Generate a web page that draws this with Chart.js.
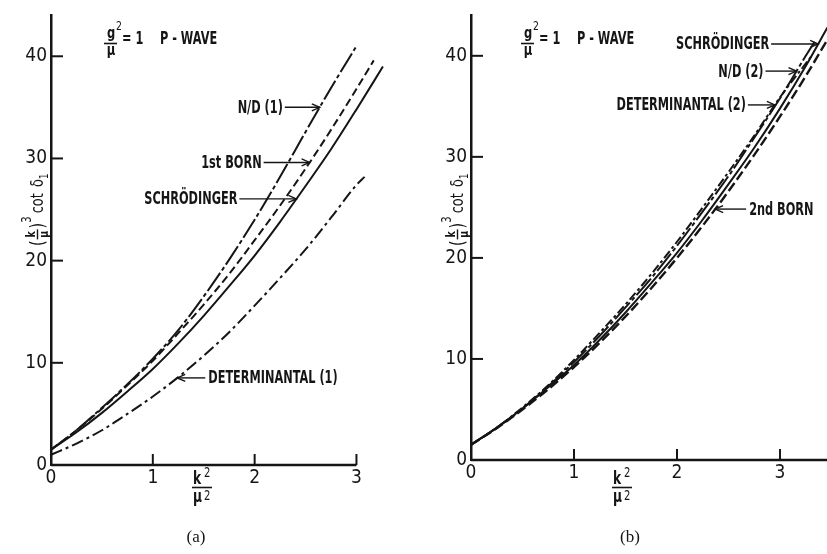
<!DOCTYPE html>
<html>
<head>
<meta charset="utf-8">
<script src="https://cdn.jsdelivr.net/npm/chart.js@4.4.0/dist/chart.umd.min.js"></script>
<style>
  html, body { margin: 0; padding: 0; background: #fff; }
  #wrap { position: relative; width: 827px; height: 554px; overflow: hidden; background: #fff; }
  .panel { position: absolute; top: 0; height: 554px; }
  #pa { left: 0; width: 415px; }
  #pb { left: 415px; width: 412px; }
</style>
</head>
<body>
<div id="wrap">
  <div class="panel" id="pa"><canvas id="ca" width="415" height="554"></canvas></div>
  <div class="panel" id="pb"><canvas id="cb" width="412" height="554"></canvas></div>
</div>
<script>
// ---- tick labels ----
const xTicks = [0, 1, 2, 3];
const yTicks = [0, 10, 20, 30, 40];

// ---- panel (a): first-order approximations, (k/mu)^3 cot delta_1 vs k^2/mu^2 ----
const schrA_k = [0, 0.25, 0.5, 0.75, 1, 1.25, 1.5, 1.75, 2, 2.25, 2.5, 2.75, 3, 3.26];
const schrA_v = [1.5, 3.2, 5.1, 7.2, 9.4, 11.9, 14.6, 17.5, 20.5, 23.8, 27.3, 30.9, 34.8, 39.0];

const born1_k = [0, 0.25, 0.5, 0.75, 1, 1.25, 1.5, 1.75, 2, 2.25, 2.5, 2.75, 3, 3.17];
const born1_v = [1.5, 3.4, 5.5, 7.8, 10.2, 12.9, 15.7, 18.7, 22.0, 25.4, 29.0, 32.8, 36.8, 39.6];

const nd1_k = [0, 0.25, 0.5, 0.75, 1, 1.25, 1.5, 1.75, 2, 2.25, 2.5, 2.75, 3];
const nd1_v = [1.5, 3.4, 5.6, 7.9, 10.4, 13.2, 16.5, 20.1, 24.0, 28.2, 32.6, 36.9, 41.0];

const det1_k = [0, 0.25, 0.5, 0.75, 1, 1.25, 1.5, 1.75, 2, 2.25, 2.5, 2.75, 3, 3.08];
const det1_v = [1.0, 2.1, 3.4, 5.0, 6.7, 8.6, 10.7, 13.0, 15.6, 18.3, 21.1, 24.2, 27.4, 28.2];

// ---- panel (b): second-order approximations ----
const schrB_k = [0, 0.25, 0.5, 0.75, 1, 1.25, 1.5, 1.75, 2, 2.25, 2.5, 2.75, 3, 3.25, 3.46];
const schrB_v = [1.5, 3.2, 5.1, 7.2, 9.4, 11.9, 14.6, 17.5, 20.5, 23.8, 27.3, 30.9, 34.8, 39.0, 42.8];

const nd2_k = [0, 0.25, 0.5, 0.75, 1, 1.25, 1.5, 1.75, 2, 2.25, 2.5, 2.75, 3, 3.25, 3.35];
const nd2_v = [1.5, 3.2, 5.1, 7.3, 9.7, 12.3, 15.1, 18.0, 21.2, 24.6, 28.1, 31.9, 35.8, 40.0, 41.6];

const det2_k = [0, 0.25, 0.5, 0.75, 1, 1.25, 1.5, 1.75, 2, 2.25, 2.5, 2.75, 3, 3.3];
const det2_v = [1.5, 3.2, 5.2, 7.4, 9.9, 12.6, 15.4, 18.4, 21.6, 25.0, 28.5, 32.1, 35.9, 39.9];

const born2_k = [0, 0.25, 0.5, 0.75, 1, 1.25, 1.5, 1.75, 2, 2.25, 2.5, 2.75, 3, 3.25, 3.46];
const born2_v = [1.5, 3.15, 5.0, 7.0, 9.2, 11.6, 14.2, 17.0, 20.0, 23.2, 26.6, 30.2, 34.0, 38.0, 41.6];

// ---- styling ----
const INK = '#151515';
const FONT = "'Liberation Sans Narrow','DejaVu Sans Condensed','Arial Narrow',sans-serif";
const SERIF = "'Liberation Serif','DejaVu Serif',serif";
const SQUEEZE = 0.8;        // lettering is drawn horizontally condensed
const LABEL_SQUEEZE = 0.74; // curve labels use a heavier, narrower pen

const DASH_ND = [22, 3, 4, 3];
const DASH_BORN = [8, 4];
const DASH_DET = [12, 4, 3, 4];

function lerpAt(ks, vs, k) {
  for (let i = 1; i < ks.length; i++) {
    if (k <= ks[i]) {
      const t = (k - ks[i - 1]) / (ks[i] - ks[i - 1]);
      return vs[i - 1] + t * (vs[i] - vs[i - 1]);
    }
  }
  return vs[vs.length - 1];
}

// condensed text: align 'left' | 'right' | 'center' at (x, y)
function narrowText(ctx, text, x, y, align, squeeze) {
  const sq = squeeze || SQUEEZE;
  const w = ctx.measureText(text).width * sq;
  let left = x;
  if (align === 'right') left = x - w;
  else if (align === 'center') left = x - w / 2;
  ctx.save();
  ctx.translate(left, y);
  ctx.scale(sq, 1);
  ctx.textAlign = 'left';
  ctx.fillText(text, 0, 0);
  ctx.restore();
  return w;
}

function drawArrow(ctx, x0, y, x1) {
  ctx.beginPath();
  ctx.moveTo(x0, y);
  ctx.lineTo(x1, y);
  ctx.stroke();
  const d = Math.sign(x1 - x0);
  ctx.beginPath();
  ctx.moveTo(x1 - d * 8, y - 3.5);
  ctx.lineTo(x1, y);
  ctx.lineTo(x1 - d * 8, y + 3.5);
  ctx.stroke();
}

function drawYTitle(ctx, cx, cy) {
  ctx.save();
  ctx.translate(cx, cy);
  ctx.rotate(-Math.PI / 2);
  ctx.fillStyle = INK;
  ctx.strokeStyle = INK;
  ctx.textBaseline = 'alphabetic';
  let x = -50;
  ctx.font = `20px ${FONT}`;
  x += narrowText(ctx, '(', x, 7, 'left') + 1;
  ctx.font = `bold 13px ${FONT}`;
  narrowText(ctx, 'k', x + 5, -2, 'center');
  narrowText(ctx, 'μ', x + 5, 11, 'center');
  ctx.lineWidth = 1.4;
  ctx.beginPath();
  ctx.moveTo(x, 0.5);
  ctx.lineTo(x + 10, 0.5);
  ctx.stroke();
  x += 11;
  ctx.font = `20px ${FONT}`;
  x += narrowText(ctx, ')', x, 7, 'left');
  ctx.font = `14px ${FONT}`;
  x += narrowText(ctx, '3', x, -6, 'left') + 3;
  ctx.font = `18px ${FONT}`;
  x += narrowText(ctx, 'cot ', x, 6, 'left') + 2;
  x += narrowText(ctx, 'δ', x, 6, 'left');
  ctx.font = `13px ${FONT}`;
  narrowText(ctx, '1', x, 11, 'left');
  ctx.restore();
}

function drawXTitle(ctx, cx) {
  ctx.save();
  ctx.fillStyle = INK;
  ctx.strokeStyle = INK;
  ctx.textBaseline = 'alphabetic';
  ctx.font = `bold 17px ${FONT}`;
  narrowText(ctx, 'k', cx - 9, 484, 'left');
  narrowText(ctx, 'μ', cx - 9, 502, 'left');
  ctx.font = `14px ${FONT}`;
  narrowText(ctx, '2', cx + 2, 477, 'left');
  narrowText(ctx, '2', cx + 2, 500, 'left');
  ctx.lineWidth = 1.6;
  ctx.beginPath();
  ctx.moveTo(cx - 10, 487.5);
  ctx.lineTo(cx + 10, 487.5);
  ctx.stroke();
  ctx.restore();
}

function drawHeader(ctx, x) {
  // g^2 / mu = 1    P-WAVE
  ctx.save();
  ctx.fillStyle = INK;
  ctx.strokeStyle = INK;
  ctx.textBaseline = 'alphabetic';
  ctx.font = `bold 16px ${FONT}`;
  narrowText(ctx, 'g', x, 38, 'center');
  narrowText(ctx, 'μ', x, 55, 'center');
  ctx.font = `13px ${FONT}`;
  narrowText(ctx, '2', x + 8, 30, 'center');
  ctx.lineWidth = 1.6;
  ctx.beginPath();
  ctx.moveTo(x - 7, 43.5);
  ctx.lineTo(x + 6, 43.5);
  ctx.stroke();
  ctx.font = `bold 17px ${FONT}`;
  narrowText(ctx, '= 1', x + 11, 44, 'left', LABEL_SQUEEZE);
  narrowText(ctx, 'P - WAVE', x + 49, 44, 'left', LABEL_SQUEEZE);
  ctx.restore();
}

const panelDeco = {
  id: 'panelDeco',
  afterDraw(chart) {
    const o = chart.options.plugins.panelDeco;
    const ctx = chart.ctx;
    const xs = chart.scales.x;
    const ys = chart.scales.y;
    const area = chart.chartArea;
    ctx.save();
    ctx.strokeStyle = INK;
    ctx.fillStyle = INK;
    ctx.setLineDash([]);
    // horizontal axis line, ending at the last tick
    ctx.lineWidth = 2.5;
    ctx.beginPath();
    ctx.moveTo(area.left, area.bottom);
    ctx.lineTo(Math.min(area.right, xs.getPixelForValue(o.axisEnd)), area.bottom);
    ctx.stroke();
    // inward tick marks
    ctx.lineWidth = 2;
    yTicks.forEach(v => {
      if (v === 0) return;
      const py = ys.getPixelForValue(v);
      ctx.beginPath();
      ctx.moveTo(area.left, py);
      ctx.lineTo(area.left + 12, py);
      ctx.stroke();
    });
    xTicks.forEach(v => {
      if (v === 0) return;
      const px = xs.getPixelForValue(v);
      ctx.beginPath();
      ctx.moveTo(px, area.bottom);
      ctx.lineTo(px, area.bottom - 11);
      ctx.stroke();
    });
    // curve labels with arrows
    ctx.lineWidth = 1.4;
    ctx.font = `bold 17px ${FONT}`;
    ctx.textBaseline = 'middle';
    o.labels.forEach(l => {
      const tipX = xs.getPixelForValue(l.k);
      const tipY = ys.getPixelForValue(lerpAt(l.ks, l.vs, l.k));
      if (l.side === 'left') {
        const start = tipX - l.len;
        drawArrow(ctx, start, tipY, tipX);
        narrowText(ctx, l.text, start - 2, tipY + 1, 'right', LABEL_SQUEEZE);
      } else {
        const start = tipX + l.len;
        drawArrow(ctx, start, tipY, tipX);
        narrowText(ctx, l.text, start + 3, tipY + 1, 'left', LABEL_SQUEEZE);
      }
    });
    ctx.restore();
    drawHeader(ctx, area.left + o.headerOffset);
    drawYTitle(ctx, area.left - 14, 196);
    drawXTitle(ctx, area.left + o.xTitleOffset);
    ctx.save();
    ctx.fillStyle = INK;
    ctx.font = `17px ${SERIF}`;
    ctx.textAlign = 'center';
    ctx.textBaseline = 'middle';
    ctx.fillText(o.caption, o.captionX, 538);
    ctx.restore();
  }
};

function series(ks, vs, dash, width) {
  return {
    data: ks.map((k, i) => ({ x: k, y: vs[i] })),
    borderColor: INK,
    borderWidth: width || 2,
    borderDash: dash || [],
    pointRadius: 0,
    fill: false,
    clip: false,
    tension: 0.4,
    cubicInterpolationMode: 'monotone'
  };
}

function makeChart(id, cfg) {
  return new Chart(document.getElementById(id), {
    type: 'line',
    data: { datasets: cfg.datasets },
    options: {
      responsive: false,
      animation: false,
      events: [],
      layout: { padding: { top: cfg.padTop, right: cfg.padRight, left: 0, bottom: 0 } },
      plugins: {
        legend: { display: false },
        tooltip: { enabled: false },
        panelDeco: cfg.deco
      },
      scales: {
        x: {
          type: 'linear',
          min: 0,
          max: cfg.xMax,
          grid: { display: false, drawTicks: false },
          border: { display: false },
          afterBuildTicks: s => { s.ticks = xTicks.map(v => ({ value: v })); },
          afterFit: s => { s.height = cfg.xAxisHeight; },
          ticks: { color: INK, font: { family: FONT, size: 19 }, padding: 2, maxRotation: 0, autoSkip: false }
        },
        y: {
          type: 'linear',
          min: 0,
          max: 44,
          grid: { display: false, drawTicks: false },
          border: { display: true, color: INK, width: 2.5 },
          afterBuildTicks: s => { s.ticks = yTicks.map(v => ({ value: v })); },
          afterFit: s => { s.width = cfg.yAxisWidth; },
          ticks: { color: INK, font: { family: FONT, size: 19 }, padding: 4, autoSkip: false }
        }
      }
    },
    plugins: [panelDeco]
  });
}

makeChart('ca', {
  xMax: 3.3,
  padTop: 15,
  padRight: 28,
  xAxisHeight: 89,
  yAxisWidth: 51,
  datasets: [
    series(nd1_k, nd1_v, DASH_ND),
    series(born1_k, born1_v, DASH_BORN),
    series(schrA_k, schrA_v, []),
    series(det1_k, det1_v, DASH_DET)
  ],
  deco: {
    axisEnd: 3,
    headerOffset: 60,
    xTitleOffset: 151,
    caption: '(a)',
    captionX: 196,
    labels: [
      { text: 'N/D (1)', k: 2.64, ks: nd1_k, vs: nd1_v, side: 'left', len: 35 },
      { text: '1st BORN', k: 2.54, ks: born1_k, vs: born1_v, side: 'left', len: 46 },
      { text: 'SCHRÖDINGER', k: 2.41, ks: schrA_k, vs: schrA_v, side: 'left', len: 57 },
      { text: 'DETERMINANTAL (1)', k: 1.24, ks: det1_k, vs: det1_v, side: 'right', len: 28 }
    ]
  }
});

makeChart('cb', {
  xMax: 3.456,
  padTop: 13,
  padRight: 0,
  xAxisHeight: 94,
  yAxisWidth: 56,
  datasets: [
    series(schrB_k, schrB_v, []),
    series(nd2_k, nd2_v, DASH_ND),
    series(det2_k, det2_v, [9, 3, 3, 3]),
    series(born2_k, born2_v, [10, 4], 2.4)
  ],
  deco: {
    axisEnd: 3.456,
    headerOffset: 57,
    xTitleOffset: 151,
    caption: '(b)',
    captionX: 215,
    labels: [
      { text: 'SCHRÖDINGER', k: 3.37, ks: schrB_k, vs: schrB_v, side: 'left', len: 47 },
      { text: 'N/D (2)', k: 3.16, ks: nd2_k, vs: nd2_v, side: 'left', len: 31 },
      { text: 'DETERMINANTAL (2)', k: 2.95, ks: det2_k, vs: det2_v, side: 'left', len: 27 },
      { text: '2nd BORN', k: 2.37, ks: born2_k, vs: born2_v, side: 'right', len: 31 }
    ]
  }
});
</script>
</body>
</html>
